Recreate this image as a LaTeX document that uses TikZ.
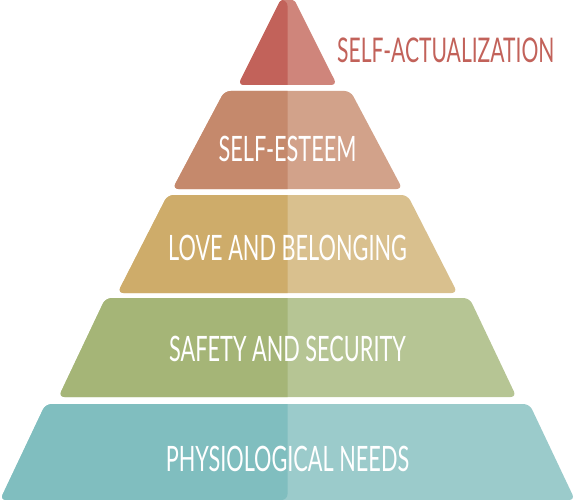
\documentclass[tikz,border=0pt]{standalone}
\usepackage{fontspec}
\newfontfamily\pyrfont[FakeStretch=0.62]{Lato}
\definecolor{topdark}{HTML}{C2625A}
\definecolor{toplight}{HTML}{CF857B}
\definecolor{esteemdark}{HTML}{C5896C}
\definecolor{esteemlight}{HTML}{D2A28A}
\definecolor{lovedark}{HTML}{CEAC6A}
\definecolor{lovelight}{HTML}{D9C08E}
\definecolor{safedark}{HTML}{A5B577}
\definecolor{safelight}{HTML}{B6C594}
\definecolor{needdark}{HTML}{80BEBF}
\definecolor{needlight}{HTML}{9BCBCB}
\begin{document}
\begin{tikzpicture}[x=1pt,y=-1pt,
	tier/.style 2 args={fill=#2,rounded corners=6pt,path picture={\fill[#1] (0,0) rectangle (287.5,500);}},
	tiertext/.style={font=\pyrfont\fontsize{35}{35}\selectfont,text=white,anchor=base,inner sep=0}]
	\useasboundingbox (0,0) rectangle (575,500);
	\path[tier={topdark}{toplight}] (287.5,85) -- (238,85) -- (276.8,7.5) .. controls (281.2,-1.4) and (293.8,-1.4) .. (298.2,7.5) -- (337,85) -- cycle;
	\path[tier={esteemdark}{esteemlight}] (172.5,189) -- (224.5,91) -- (350.5,91) -- (402.5,189) -- cycle;
	\path[tier={lovedark}{lovelight}] (117.5,293) -- (167.5,195) -- (407.5,195) -- (457.5,293) -- cycle;
	\path[tier={safedark}{safelight}] (58.5,397) -- (105.5,298) -- (469.5,298) -- (516.5,397) -- cycle;
	\path[tier={needdark}{needlight}] (0,500) -- (45.5,404) -- (529.5,404) -- (575,500) -- cycle;
	\path (337,63)node[tiertext,anchor=base west,text=topdark,font=\pyrfont\fontsize{34}{34}\selectfont](selfact){SELF-ACTUALIZATION}
	(287.5,161)node[tiertext](esteem){SELF-ESTEEM}
	(287.5,260)node[tiertext](love){LOVE AND BELONGING}
	(287.5,361)node[tiertext](safety){SAFETY AND SECURITY}
	(287.5,471)node[tiertext](needs){PHYSIOLOGICAL NEEDS};
\end{tikzpicture}
\end{document}
